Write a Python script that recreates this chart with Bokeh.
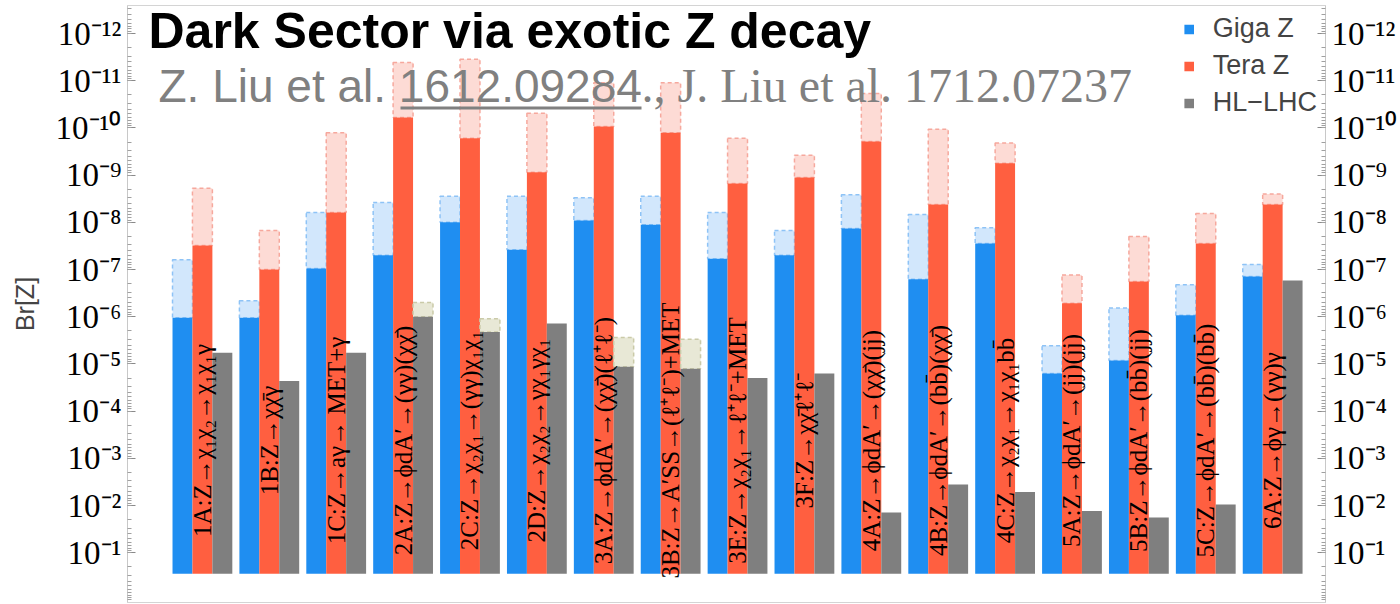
import math
from bokeh.plotting import figure
from bokeh.models import (Range1d, ColumnDataSource, Label, LogAxis, FixedTicker,
                          Legend, LegendItem, BoxAnnotation, CustomJSTickFormatter)
from bokeh.embed import file_html
from bokeh.resources import INLINE
from bokeh.core.properties import value

# ---------------- data ----------------
channels = ["1A", "1B", "1C", "2A", "2C", "2D", "3A", "3B", "3E", "3F",
            "4A", "4B", "4C", "5A", "5B", "5C", "6A"]
channel_labels = [
    "1A:Z→χ₁χ₂→χ₁χ₁γ",
    "1B:Z→χχ̄γ",
    "1C:Z→aγ→ MET+γ",
    "2A:Z→ϕdA′→(γγ)(χχ̄)",
    "2C:Z→χ₂χ₁→(γγ)χ₁χ₁",
    "2D:Z→χ₂χ₂→γχ₁γχ₁",
    "3A:Z→ϕdA′→(χχ̄)(ℓ⁺ℓ⁻)",
    "3B:Z→A′SS→(ℓ⁺ℓ⁻)+MET",
    "3E:Z→χ₂χ₁→ℓ⁺ℓ⁻+MET",
    "3F:Z→χχ̄ℓ⁺ℓ⁻",
    "4A:Z→ϕdA′→(χχ̄)(jj)",
    "4B:Z→ϕdA′→(bb̄)(χχ̄)",
    "4C:Z→χ₂χ₁→χ₁χ₁bb̄",
    "5A:Z→ϕdA′→(jj)(jj)",
    "5B:Z→ϕdA′→(bb̄)(jj)",
    "5C:Z→ϕdA′→(bb̄)(bb̄)",
    "6A:Z→ϕγ→(γγ)γ",
]
# Br[Z] reach (solid) and extended reach (dashed, light)
giga_z = [1.05e-6, 1.05e-6, 9.5e-8, 5.0e-8, 1.0e-8, 3.8e-8, 9.1e-9, 1.12e-8, 5.9e-8,
          5.0e-8, 1.35e-8, 1.6e-7, 2.8e-8, 1.6e-5, 8.5e-6, 9.3e-7, 1.4e-7]
giga_z_ext = [6.2e-8, 4.6e-7, 6.2e-9, 3.8e-9, 2.8e-9, 2.8e-9, 3.0e-9, 2.8e-9, 6.2e-9,
              1.5e-8, 2.6e-9, 6.8e-9, 1.3e-8, 4.1e-6, 6.5e-7, 2.1e-7, 7.8e-8]
tera_z = [3.1e-8, 1.0e-7, 6.2e-9, 6.0e-11, 1.66e-10, 8.7e-10, 9.3e-11, 1.26e-10, 1.5e-9,
          1.12e-9, 1.95e-10, 4.2e-9, 5.6e-10, 5.2e-7, 1.8e-7, 2.8e-8, 4.2e-9]
tera_z_ext = [1.9e-9, 1.5e-8, 1.26e-10, 4.1e-12, 3.5e-12, 4.9e-11, 1.1e-11, 1.1e-11, 1.66e-10,
              3.8e-10, 1.86e-11, 1.07e-10, 2.1e-10, 1.3e-7, 2.0e-8, 6.5e-9, 2.5e-9]
hl_lhc = [5.8e-6, 2.3e-5, 5.8e-6, 1.0e-6, 2.1e-6, 1.4e-6, 1.15e-5, 1.26e-5, 2.0e-5,
          1.6e-5, 1.4e-2, 3.6e-3, 5.2e-3, 1.3e-2, 1.8e-2, 9.5e-3, 1.7e-7]
hl_lhc_ext = [None, None, None, 5.0e-7, 1.1e-6, None, 2.75e-6, 3.0e-6, None,
              None, None, None, None, None, None, None, None]
tick_exponents = list(range(-12, 0))

# ---------------- styling ----------------
BASE = 0.28
BW = 0.298
C_BLUE, C_BLUE_L, C_BLUE_E = "#1F8EF1", "#D2E7FC", "#8EC3F6"
C_RED, C_RED_L, C_RED_E = "#FF5F40", "#FDDBD5", "#F6A89D"
C_GRAY, C_GRAY_L, C_GRAY_E = "#7F7F7F", "#E8E8D6", "#CACAA8"

xs = list(range(len(channels)))

p = figure(width=1400, height=604, output_backend="svg", toolbar_location=None,
           x_range=Range1d(-1.12, 16.79), y_range=Range1d(1.135, 2.55e-13),
           y_axis_type="log", x_axis_location=None,
           min_border_left=127, min_border_right=72, min_border_top=5, min_border_bottom=2)
p.grid.visible = False
p.outline_line_color = "#d4d4d4"
p.background_fill_color = "white"


def bars(offset, solid, ext, c, cl, ce):
    x = [i + offset for i in xs]
    src = ColumnDataSource(dict(x=x, top=solid, bottom=[BASE] * len(x)))
    ex = [(xi, s, e) for xi, s, e in zip(x, solid, ext) if e is not None]
    esrc = ColumnDataSource(dict(x=[t[0] for t in ex], bottom=[t[1] for t in ex],
                                 top=[t[2] for t in ex]))
    p.vbar(x="x", top="top", bottom="bottom", width=BW, source=esrc,
           fill_color=cl, line_color=ce, line_dash="4 3", line_width=1.5)
    return p.vbar(x="x", top="top", bottom="bottom", width=BW, source=src,
                  fill_color=c, line_color=None)


r_giga = bars(-BW, giga_z, giga_z_ext, C_BLUE, C_BLUE_L, C_BLUE_E)
r_tera = bars(0.0, tera_z, tera_z_ext, C_RED, C_RED_L, C_RED_E)
r_hl = bars(BW, hl_lhc, hl_lhc_ext, C_GRAY, C_GRAY_L, C_GRAY_E)

# rotated channel labels
p.text(x=xs, y=[4.2e-4] * len(xs), text=channel_labels, angle=math.pi / 2,
       text_align="center", text_baseline="middle",
       text_font=value("Liberation Serif"), text_font_size="25px", text_color="black")

# axes
ticks = [10.0 ** e for e in tick_exponents]
minor = [m * 10.0 ** e for e in range(-13, 1) for m in range(1, 10)]

sup_formatter_code = """
const sup = {"-": "\u207b", "0": "\u2070", "1": "\u00b9", "2": "\u00b2", "3": "\u00b3",
             "4": "\u2074", "5": "\u2075", "6": "\u2076", "7": "\u2077", "8": "\u2078",
             "9": "\u2079"};
const e = Math.round(Math.log10(tick));
return "10" + String(e).split("").map((c) => sup[c]).join("");
"""


def style_axis(ax):
    ax.ticker = FixedTicker(ticks=ticks, minor_ticks=minor)
    ax.formatter = CustomJSTickFormatter(code=sup_formatter_code)
    ax.major_label_text_font = "Liberation Serif"
    ax.major_label_text_font_size = "33px"
    ax.major_label_text_color = "black"
    ax.major_tick_in = 8
    ax.major_tick_out = 0
    ax.minor_tick_in = 4
    ax.minor_tick_out = 0
    ax.axis_line_color = "#c8c8c8"
    ax.major_tick_line_color = "#8a8a8a"
    ax.minor_tick_line_color = "#a0a0a0"
    ax.major_label_standoff = 6


left = p.yaxis[0]
style_axis(left)
left.axis_label = "Br[Z]"
left.axis_label_text_font = "Liberation Sans"
left.axis_label_text_font_style = "normal"
left.axis_label_text_font_size = "25px"
left.axis_label_standoff = 14

right = LogAxis()
style_axis(right)
p.add_layout(right, "right")

# legend
legend = Legend(items=[LegendItem(label="Giga Z", renderers=[r_giga]),
                       LegendItem(label="Tera Z", renderers=[r_tera]),
                       LegendItem(label="HL−LHC", renderers=[r_hl])],
                location="top_right", border_line_color=None, background_fill_alpha=0,
                label_text_font="Liberation Sans", label_text_font_size="27px",
                glyph_width=12, glyph_height=12, spacing=6, padding=3, margin=8,
                label_standoff=18)
p.add_layout(legend)

# title and references (screen units measured from the frame's bottom-left)
p.add_layout(Label(x=21, y=572, x_units="screen", y_units="screen",
                   text="Dark Sector via exotic Z decay", text_font="Liberation Sans",
                   text_font_style="bold", text_font_size="50px", text_color="black",
                   text_baseline="alphabetic"))
p.add_layout(Label(x=31, y=517, x_units="screen", y_units="screen",
                   text="Z. Liu et al. 1612.09284", text_font="Liberation Sans",
                   text_font_size="46px", text_color="#808080", text_baseline="alphabetic"))
p.add_layout(Label(x=514, y=517, x_units="screen", y_units="screen",
                   text="., J. Liu et al. 1712.07237", text_font="Liberation Serif",
                   text_font_size="48px", text_color="#808080", text_baseline="alphabetic"))
p.add_layout(BoxAnnotation(left=273, right=514, bottom=493, top=496,
                           left_units="screen", right_units="screen",
                           bottom_units="screen", top_units="screen",
                           fill_color="#808080", fill_alpha=1.0, line_color=None))

open("out.html", "w").write(file_html(p, INLINE))
